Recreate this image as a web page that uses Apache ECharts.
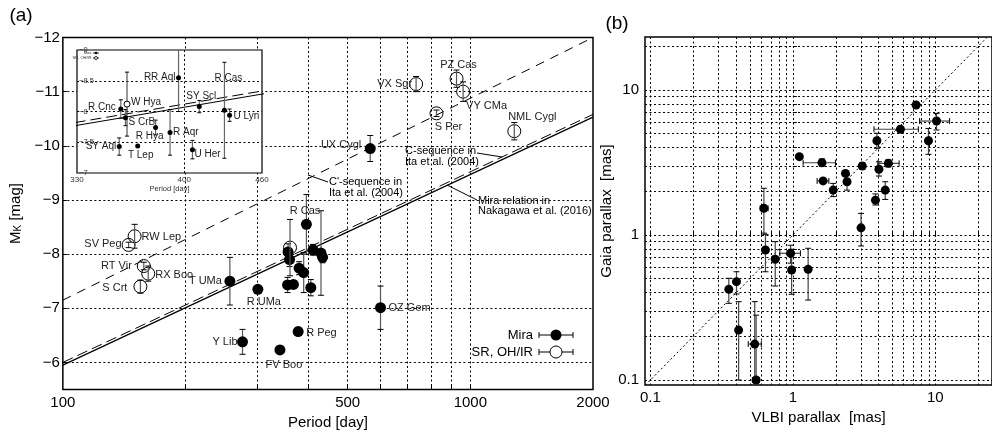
<!DOCTYPE html>
<html><head><meta charset="utf-8">
<script src="https://cdn.jsdelivr.net/npm/echarts@6/dist/echarts.min.js"></script>
<style>html,body{margin:0;padding:0;background:#fff}#c{width:992px;height:436px}</style>
</head><body><div id="c"></div>
<script>
// ---------------- Panel (a) data ----------------
const miraNames  = ['R Cnc','S CrB','SY Aql','T Lep','R Hya','R Aqr','RR Aql','U Her','SY Scl','R Cas','U Lyn','T UMa','R UMa','Y Lib','FV Boo','R Peg','OZ Gem','UX Cygl'];
const miraPeriod = [357,360,356,368,380,390,396,406,411,430,434,257,301,276,341,378,602,568];
const miraMK     = [-8.04,-7.90,-7.43,-7.44,-7.74,-7.66,-8.55,-7.38,-8.08,-8.02,-7.94,-7.50,-7.35,-6.38,-6.23,-6.57,-7.01,-9.95];
const miraErr    = [0.15,0.13,0.14,0.00,0.12,0.37,0.55,0.15,0.10,0.78,0.10,0.44,0.00,0.23,0.06,0.07,0.40,0.24];

const srNames  = ['SV Peg','RW Lep','RT Vir','RX Boo','S Crt','W Hya','VX Sgr','PZ Cas','VY CMa','S Per','NML Cygl'];
const srPeriod = [145,150,158,162,155,361,736,925,960,826,1282];
const srMK     = [-8.17,-8.33,-7.78,-7.64,-7.40,-8.12,-11.14,-11.24,-11.00,-10.60,-10.27];
const srErr    = [0.05,0.22,0.07,0.14,0.12,0.52,0.14,0.16,0.18,0.06,0.16];

// relations (end points)
const relPeriod   = [100, 2000];
const miraRelMK   = [-5.95, -10.53];   // Nakagawa et al. (2016)
const cSeqMK      = [-6.00, -10.58];   // C-sequence, Ita et al. (2004)
const cPrimeMK    = [-7.15, -12.00];   // C'-sequence, Ita et al. (2004)

const xTicksA  = [200,300,400,500,600,700,800,900,1000];
const xLabelsA = [100,500,1000,2000];
const yTicksA  = [-12,-11,-10,-9,-8,-7,-6];
const xTicksIn = [400];
const xLabelsIn = [330,400,460];
const yLabelsIn = [-9,-8.5,-8,-7.5,-7];

// ---------------- Panel (b) data ----------------
const vlbiPlx = [1.11,1.60,1.63,1.92,2.34,2.40,3.07,3.89,4.02,4.68,4.45,3.80,5.69,7.33,10.2,8.95,0.626,3.01,0.642,0.752,0.964,0.98,1.28,0.355,0.402,0.416,0.54,0.552];
const vlbiLo  = [1.11,1.18,1.48,1.92,2.34,2.40,3.07,3.89,4.02,3.95,4.45,3.65,3.71,7.10,7.76,8.95,0.59,3.01,0.642,0.752,0.81,0.98,1.28,0.355,0.402,0.416,0.486,0.52];
const vlbiHi  = [1.11,1.99,1.79,1.92,2.34,2.40,3.07,3.89,4.02,5.57,4.45,3.95,7.60,7.60,12.6,8.95,0.67,3.01,0.642,0.752,1.13,0.98,1.28,0.355,0.402,0.416,0.60,0.58];
const gaiaPlx = [3.47,3.15,2.36,2.04,2.66,2.33,2.99,4.47,2.84,3.12,2.04,1.74,5.36,7.88,6.11,4.47,1.53,1.12,0.788,0.68,0.748,0.574,0.58,0.422,0.477,0.221,0.177,0.10];
const gaiaLo  = [3.47,2.98,2.36,1.84,2.66,2.04,2.85,3.96,2.55,2.95,1.76,1.61,5.36,7.88,5.30,3.60,1.03,0.84,0.558,0.445,0.64,0.39,0.356,0.338,0.392,0.10,0.10,0.10];
const gaiaHi  = [3.47,3.35,2.36,2.27,2.66,2.59,3.15,5.03,3.20,3.30,2.33,1.92,5.36,7.88,6.90,5.43,2.10,1.41,1.01,0.90,0.85,0.797,0.81,0.503,0.558,0.347,0.347,0.28];
const diagPlx = [0.092, 23];
const ticksB  = [0.1,0.2,0.3,0.4,0.5,0.6,0.7,0.8,0.9,1,2,3,4,5,6,7,8,9,10,20];
const labelsB = [0.1,1,10];

// ---------------- label placement (layout only) ----------------
const mainLabelPos = {
 'SV Peg':[-7,-1,'right'], 'RW Lep':[7,1,'left'], 'RT Vir':[-12,0,'right'], 'RX Boo':[7,1,'left'], 'S Crt':[-13,1,'right'],
 'T UMa':[-8,0,'right'], 'R UMa':[6,13,'center'], 'Y Lib':[-5,0,'right'], 'FV Boo':[4,15,'center'], 'R Peg':[8,1,'left'],
 'R Cas':[-16,-42,'center'], 'OZ Gem':[8,0,'left'], 'UX Cygl':[-9,-4,'right'],
 'VX Sgr':[-4,0,'right'], 'PZ Cas':[2,-14,'center'], 'VY CMa':[3,14,'left'], 'S Per':[12,14,'center'], 'NML Cygl':[18,-14,'center']
};
const insetLabelPos = {
 'R Cnc':[-5,-2,'right'], 'W Hya':[4,-2,'left'], 'S CrB':[3,5,'left'], 'SY Aql':[-3,0,'right'], 'T Lep':[3,9,'center'],
 'R Hya':[-6,9,'center'], 'R Aqr':[3,0,'left'], 'RR Aql':[-3,0,'right'], 'U Her':[2,5,'left'], 'SY Scl':[2,-10,'center'],
 'R Cas':[4,-32,'center'], 'U Lyn':[4,1,'left']
};

const L = Math.log10;
const FF = '"Liberation Sans", Arial, sans-serif';
const FN = '"Liberation Sans Narrow", "Liberation Sans", Arial, sans-serif';
const minus = v => (v < 0 ? '\u2212' : '') + String(+Math.abs(v).toFixed(2));
const inRange = p => p >= 330 && p <= 460;

function scatterItems(names, P, M, posMap, fontSize, filt) {
  const out = [];
  names.forEach((n, i) => {
    if (filt && !filt(P[i])) return;
    const it = { name: n, value: [L(P[i]), M[i]] };
    const pos = posMap[n];
    if (pos) it.label = { show: true, formatter: n, position: 'inside', offset: [pos[0], pos[1]], align: pos[2],
      verticalAlign: 'middle', fontSize: fontSize, fontFamily: FN, color: '#222' };
    out.push(it);
  });
  return out;
}
function errItemsA(P, M, E, filt) {
  const out = [];
  P.forEach((p, i) => { if (filt && !filt(p)) return; out.push([L(p), M[i], M[i] - E[i], M[i] + E[i], L(p), L(p)]); });
  return out;
}
function errRender(cap, barColor, barW) {
  return function (params, api) {
    const cs = params.coordSys;
    const clampY = y => Math.max(cs.y, Math.min(cs.y + cs.height, y));
    const clampX = x => Math.max(cs.x, Math.min(cs.x + cs.width, x));
    const x = api.value(0), y = api.value(1);
    const ylo = api.value(2), yhi = api.value(3), xlo = api.value(4), xhi = api.value(5);
    const ch = [];
    const bs = { stroke: barColor, lineWidth: barW };
    const cst = { stroke: '#000', lineWidth: 1 };
    if (ylo !== yhi) {
      const a = api.coord([x, ylo]), b = api.coord([x, yhi]);
      const y1 = clampY(a[1]), y2 = clampY(b[1]);
      ch.push({ type: 'line', shape: { x1: a[0], y1: y1, x2: a[0], y2: y2 }, style: bs });
      if (y1 === a[1]) ch.push({ type: 'line', shape: { x1: a[0] - cap, y1: y1, x2: a[0] + cap, y2: y1 }, style: cst });
      if (y2 === b[1]) ch.push({ type: 'line', shape: { x1: b[0] - cap, y1: y2, x2: b[0] + cap, y2: y2 }, style: cst });
    }
    if (xlo !== xhi) {
      const a = api.coord([xlo, y]), b = api.coord([xhi, y]);
      const x1 = clampX(a[0]), x2 = clampX(b[0]);
      ch.push({ type: 'line', shape: { x1: x1, y1: a[1], x2: x2, y2: a[1] }, style: bs });
      ch.push({ type: 'line', shape: { x1: x1, y1: a[1] - cap, x2: x1, y2: a[1] + cap }, style: cst });
      ch.push({ type: 'line', shape: { x1: x2, y1: b[1] - cap, x2: x2, y2: b[1] + cap }, style: cst });
    }
    return { type: 'group', children: ch };
  };
}
const dotted = { type: [2, 2.5], color: '#000', width: 1 };
const tickStyle = { inside: true, length: 4, lineStyle: { color: '#000', width: 1 } };

const lineSeries = (xi, P, M, dash, w, z) => ({
  type: 'line', xAxisIndex: xi, yAxisIndex: xi, data: P.map((p, i) => [L(p), M[i]]), symbol: 'none', silent: true,
  lineStyle: { color: '#000', width: w, type: dash }, z: z, clip: true, animation: false
});

const option = {
  animation: false,
  backgroundColor: '#fff',
  grid: [
    { left: 58, top: 37.5, width: 535, height: 352, show: true, borderColor: '#000', borderWidth: 1.5, z: 0 },
    { left: 77, top: 50, width: 185, height: 123, show: true, borderColor: '#000', borderWidth: 1.2, backgroundColor: '#fff', z: 5 },
    { left: 645, top: 37, width: 355, height: 348, show: true, borderColor: '#000', borderWidth: 1.5, z: 0 }
  ],
  xAxis: [
    { gridIndex: 0, type: 'value', min: L(100), max: L(2000), axisLine: { show: false },
      axisTick: Object.assign({ customValues: xTicksA.map(L) }, tickStyle),
      axisLabel: { customValues: xLabelsA.map(L), formatter: v => String(Math.round(Math.pow(10, v))), margin: 6, fontSize: 15, color: '#000', fontFamily: FF },
      splitLine: { show: true, lineStyle: dotted },
      name: 'Period [day]', nameLocation: 'middle', nameGap: 26, nameTextStyle: { fontSize: 15, color: '#000', fontFamily: FF } },
    { gridIndex: 1, type: 'value', min: L(330), max: L(460), axisLine: { show: false }, z: 6,
      axisTick: { customValues: xTicksIn.map(L), inside: true, length: 2, lineStyle: { color: '#000' } },
      axisLabel: { customValues: xLabelsIn.map(L), formatter: v => String(Math.round(Math.pow(10, v))), margin: 3, fontSize: 8, color: '#333', fontFamily: FF },
      splitLine: { show: true, lineStyle: dotted },
      name: 'Period [day]', nameLocation: 'middle', nameGap: 12, nameTextStyle: { fontSize: 7.5, color: '#333', fontFamily: FF } },
    { gridIndex: 2, type: 'value', min: L(0.0916), max: L(25), axisLine: { show: false },
      axisTick: Object.assign({ customValues: ticksB.map(L) }, tickStyle),
      axisLabel: { customValues: labelsB.map(L), formatter: v => String(+Math.pow(10, v).toPrecision(1)), margin: 5, fontSize: 15, color: '#000', fontFamily: FF },
      splitLine: { show: true, lineStyle: dotted },
      name: 'VLBI parallax  [mas]', nameLocation: 'middle', nameGap: 21, nameTextStyle: { fontSize: 15, color: '#000', fontFamily: FF } }
  ],
  yAxis: [
    { gridIndex: 0, type: 'value', inverse: true, min: -12, max: -5.5, axisLine: { show: false },
      axisTick: Object.assign({ customValues: yTicksA }, tickStyle),
      axisLabel: { customValues: yTicksA, formatter: minus, margin: 3, fontSize: 15, color: '#000', fontFamily: FF },
      splitLine: { show: true, lineStyle: dotted },
      name: 'M{sub|K} [mag]', nameLocation: 'middle', nameGap: 35, nameRotate: 90,
      nameTextStyle: { fontSize: 15, color: '#000', fontFamily: FF, rich: { sub: { fontSize: 10, fontFamily: FF, color: '#000', verticalAlign: 'bottom', padding: [6, 0, 0, 0] } } } },
    { gridIndex: 1, type: 'value', inverse: true, min: -9, max: -7, axisLine: { show: false }, z: 6,
      axisTick: { customValues: [-8.5, -8, -7.5], inside: true, length: 2, lineStyle: { color: '#000' } },
      axisLabel: { customValues: yLabelsIn, inside: true, formatter: minus, margin: 2, fontSize: 7.5, color: '#333', fontFamily: FF },
      splitLine: { show: true, lineStyle: dotted } },
    { gridIndex: 2, type: 'value', min: L(0.0924), max: L(23.2), axisLine: { show: false },
      axisTick: Object.assign({ customValues: ticksB.map(L) }, tickStyle),
      axisLabel: { customValues: labelsB.map(L), formatter: v => String(+Math.pow(10, v).toPrecision(1)), margin: 6, fontSize: 15, color: '#000', fontFamily: FF },
      splitLine: { show: true, lineStyle: dotted },
      name: 'Gaia parallax  [mas]', nameLocation: 'middle', nameGap: 20, nameRotate: 90, nameTextStyle: { fontSize: 15, color: '#000', fontFamily: FF } }
  ],
  series: [
    // ----- main panel (a)
    lineSeries(0, relPeriod, miraRelMK, 'solid', 1.2, 3),
    lineSeries(0, relPeriod, cSeqMK, [11, 5], 1, 3),
    lineSeries(0, relPeriod, cPrimeMK, [9, 7], 1, 3),
    { type: 'custom', xAxisIndex: 0, yAxisIndex: 0, renderItem: errRender(3, '#555', 1.2), data: errItemsA(miraPeriod, miraMK, miraErr), encode: { x: 0, y: 1 }, z: 4, silent: true },
    { type: 'custom', xAxisIndex: 0, yAxisIndex: 0, renderItem: errRender(3, '#555', 1.2), data: errItemsA(srPeriod, srMK, srErr), encode: { x: 0, y: 1 }, z: 6, silent: true },
    { type: 'scatter', name: 'Mira', xAxisIndex: 0, yAxisIndex: 0, symbol: 'circle', symbolSize: 11, z: 5,
      itemStyle: { color: '#000', opacity: 1 }, data: scatterItems(miraNames, miraPeriod, miraMK, mainLabelPos, 11) },
    { type: 'scatter', name: 'SR, OH/IR', xAxisIndex: 0, yAxisIndex: 0, symbol: 'circle', symbolSize: 13, z: 5,
      itemStyle: { color: 'rgba(255,255,255,0)', borderColor: '#000', borderWidth: 1, opacity: 1 }, data: scatterItems(srNames, srPeriod, srMK, mainLabelPos, 11) },
    // ----- inset
    lineSeries(1, relPeriod, miraRelMK, 'solid', 1.2, 10),
    lineSeries(1, relPeriod, cSeqMK, [11, 5], 1, 10),
    { type: 'custom', xAxisIndex: 1, yAxisIndex: 1, renderItem: errRender(2, '#666', 1.2), data: errItemsA(miraPeriod, miraMK, miraErr, inRange), encode: { x: 0, y: 1 }, z: 11, silent: true },
    { type: 'custom', xAxisIndex: 1, yAxisIndex: 1, renderItem: errRender(2, '#333', 1), data: errItemsA(srPeriod, srMK, srErr, inRange), encode: { x: 0, y: 1 }, z: 11, silent: true },
    { type: 'scatter', xAxisIndex: 1, yAxisIndex: 1, symbolSize: 5, z: 12, itemStyle: { color: '#000', opacity: 1 },
      data: scatterItems(miraNames, miraPeriod, miraMK, insetLabelPos, 10, inRange) },
    { type: 'scatter', xAxisIndex: 1, yAxisIndex: 1, symbolSize: 6, z: 12, itemStyle: { color: '#fff', borderColor: '#000', borderWidth: 1, opacity: 1 },
      data: scatterItems(srNames, srPeriod, srMK, insetLabelPos, 10, inRange) },
    // ----- panel (b)
    { type: 'line', xAxisIndex: 2, yAxisIndex: 2, data: diagPlx.map(v => [L(v), L(v)]), symbol: 'none', silent: true, z: 2,
      lineStyle: { color: '#000', width: 1, type: [2, 2.5] } },
    { type: 'custom', xAxisIndex: 2, yAxisIndex: 2, renderItem: errRender(3, '#444', 1.2), encode: { x: 0, y: 1 }, z: 4, silent: true,
      data: vlbiPlx.map((v, i) => [L(v), L(gaiaPlx[i]), L(gaiaLo[i]), L(gaiaHi[i]), L(vlbiLo[i]), L(vlbiHi[i])]) },
    { type: 'scatter', xAxisIndex: 2, yAxisIndex: 2, symbolSize: 9, z: 5, itemStyle: { color: '#000', opacity: 1 },
      data: vlbiPlx.map((v, i) => [L(v), L(gaiaPlx[i])]) }
  ],
  graphic: [
    { type: 'text', x: 21, y: 16, z: 100, style: { text: '(a)', fontSize: 19, fontFamily: FF, fill: '#000', align: 'center', verticalAlign: 'middle' } },
    { type: 'text', x: 617, y: 24, z: 100, style: { text: '(b)', fontSize: 19, fontFamily: FF, fill: '#000', align: 'center', verticalAlign: 'middle' } },
    // annotations
    { type: 'line', z: 100, shape: { x1: 308, y1: 175, x2: 328, y2: 182 }, style: { stroke: '#000', lineWidth: 1 } },
    { type: 'text', x: 329, y: 182, z: 100, style: { text: "C'-sequence in", fontSize: 11, fontFamily: FF, fill: '#000', align: 'left', verticalAlign: 'middle' } },
    { type: 'text', x: 329, y: 193, z: 100, style: { text: 'Ita et al. (2004)', fontSize: 11, fontFamily: FF, fill: '#000', align: 'left', verticalAlign: 'middle' } },
    { type: 'line', z: 100, shape: { x1: 477, y1: 153, x2: 502, y2: 157 }, style: { stroke: '#000', lineWidth: 1 } },
    { type: 'text', x: 476, y: 151, z: 100, style: { text: 'C-sequence in', fontSize: 11, fontFamily: FF, fill: '#000', align: 'right', verticalAlign: 'middle' } },
    { type: 'text', x: 405, y: 162, z: 100, style: { text: 'Ita et al. (2004)', fontSize: 11, fontFamily: FF, fill: '#000', align: 'left', verticalAlign: 'middle' } },
    { type: 'line', z: 100, shape: { x1: 447, y1: 185, x2: 477, y2: 200 }, style: { stroke: '#000', lineWidth: 1 } },
    { type: 'text', x: 478, y: 201, z: 100, style: { text: 'Mira relation in', fontSize: 11, fontFamily: FF, fill: '#000', align: 'left', verticalAlign: 'middle' } },
    { type: 'text', x: 478, y: 211, z: 100, style: { text: 'Nakagawa et al. (2016)', fontSize: 11, fontFamily: FF, fill: '#000', align: 'left', verticalAlign: 'middle' } },
    // legend (a)
    { type: 'text', x: 533, y: 335, z: 100, style: { text: 'Mira', fontSize: 13, fontFamily: FF, fill: '#000', align: 'right', verticalAlign: 'middle' } },
    { type: 'line', z: 100, shape: { x1: 539, y1: 335, x2: 573, y2: 335 }, style: { stroke: '#000', lineWidth: 1 } },
    { type: 'line', z: 100, shape: { x1: 539, y1: 332, x2: 539, y2: 338 }, style: { stroke: '#000', lineWidth: 1 } },
    { type: 'line', z: 100, shape: { x1: 573, y1: 332, x2: 573, y2: 338 }, style: { stroke: '#000', lineWidth: 1 } },
    { type: 'circle', z: 101, shape: { cx: 556, cy: 335, r: 5.5 }, style: { fill: '#000' } },
    { type: 'text', x: 533, y: 352, z: 100, style: { text: 'SR, OH/IR', fontSize: 13, fontFamily: FF, fill: '#000', align: 'right', verticalAlign: 'middle' } },
    { type: 'line', z: 100, shape: { x1: 539, y1: 352, x2: 573, y2: 352 }, style: { stroke: '#000', lineWidth: 1 } },
    { type: 'line', z: 100, shape: { x1: 539, y1: 349, x2: 539, y2: 355 }, style: { stroke: '#000', lineWidth: 1 } },
    { type: 'line', z: 100, shape: { x1: 573, y1: 349, x2: 573, y2: 355 }, style: { stroke: '#000', lineWidth: 1 } },
    { type: 'circle', z: 101, shape: { cx: 556, cy: 352, r: 6 }, style: { fill: '#fff', stroke: '#000', lineWidth: 1 } },
    // inset legend
    { type: 'text', x: 91.5, y: 53, z: 100, style: { text: 'Mira', fontSize: 4, fontFamily: FF, fill: '#333', align: 'right', verticalAlign: 'middle' } },
    { type: 'line', z: 100, shape: { x1: 93, y1: 53, x2: 99, y2: 53 }, style: { stroke: '#000', lineWidth: 0.8 } },
    { type: 'circle', z: 101, shape: { cx: 96, cy: 53, r: 1.3 }, style: { fill: '#000' } },
    { type: 'text', x: 91.5, y: 58, z: 100, style: { text: 'SR, OH/IR', fontSize: 4, fontFamily: FF, fill: '#333', align: 'right', verticalAlign: 'middle' } },
    { type: 'line', z: 100, shape: { x1: 93, y1: 58, x2: 99, y2: 58 }, style: { stroke: '#000', lineWidth: 0.8 } },
    { type: 'circle', z: 101, shape: { cx: 96, cy: 58, r: 1.5 }, style: { fill: '#fff', stroke: '#000', lineWidth: 0.8 } }
  ]
};
const chart = echarts.init(document.getElementById('c'), null, { renderer: 'canvas' });
chart.setOption(option);
</script>
</body></html>
